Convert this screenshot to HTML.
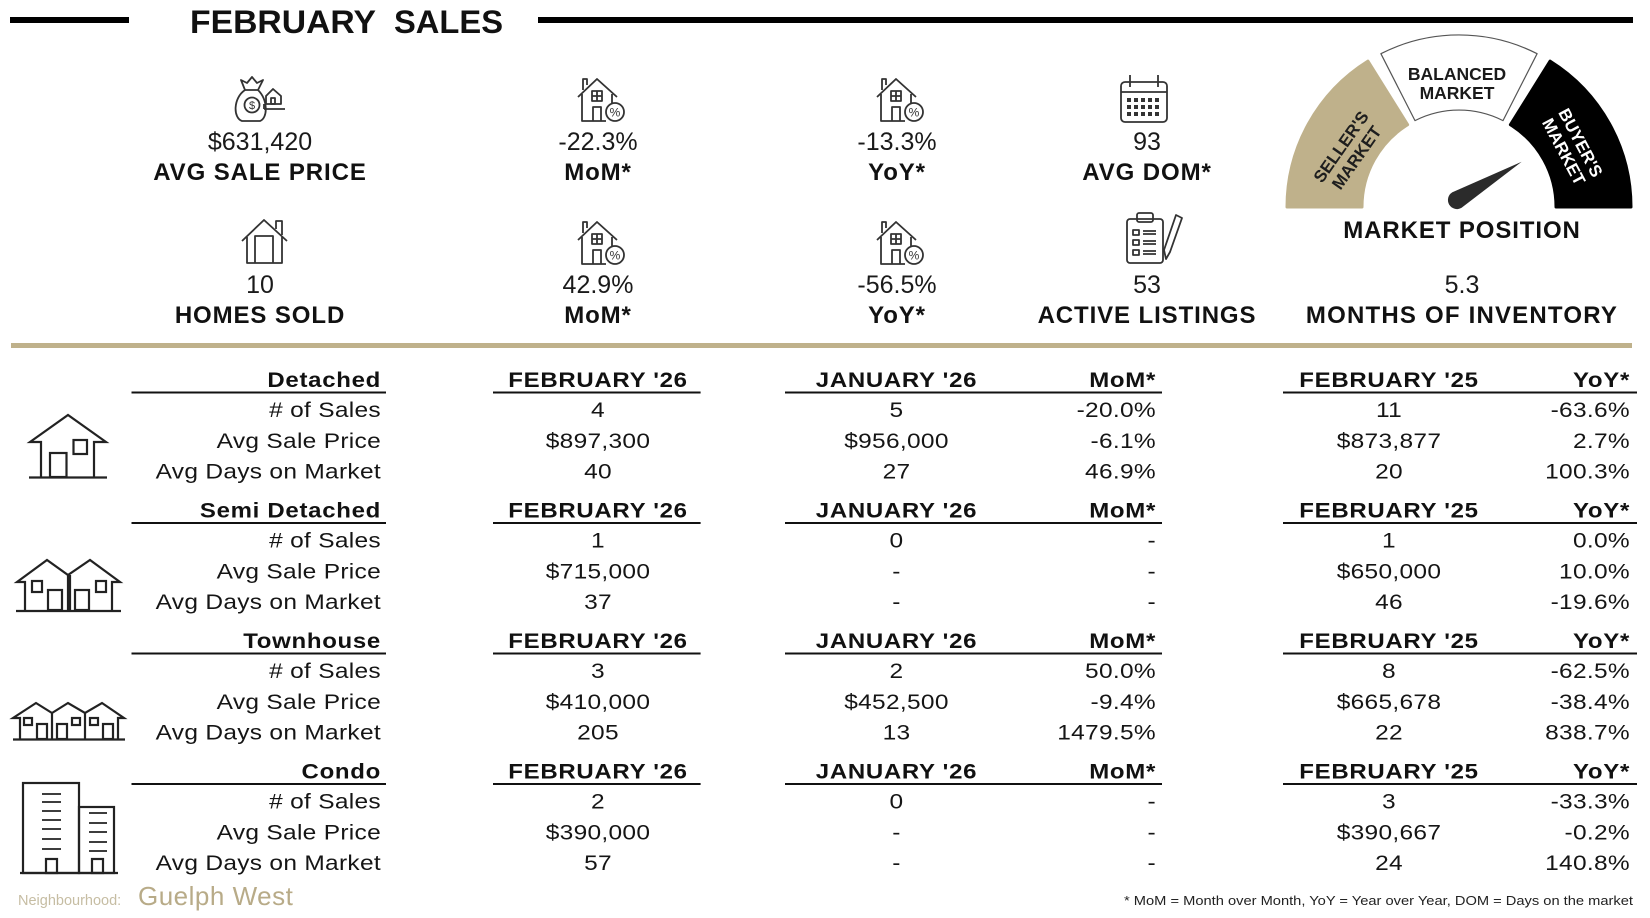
<!DOCTYPE html>
<html><head><meta charset="utf-8"><style>
html,body{margin:0;padding:0;background:#fff;}
svg{display:block;}
</style></head><body>
<svg xmlns="http://www.w3.org/2000/svg" width="1650" height="918" viewBox="0 0 1650 918" font-family="'Liberation Sans', Arial, sans-serif">
<rect width="1650" height="918" fill="#fff"/>
<defs>
<g id="hp" fill="none" stroke="#333" stroke-width="1.8" stroke-linejoin="round">
<path d="M1 19 L20 1 L40 19"/>
<path d="M6 12 V1 H10 V7"/>
<path d="M5 16 V43 H29"/>
<path d="M35 16 V25"/>
<rect x="15" y="13" width="10" height="10"/>
<path d="M20 13 V23 M15 18 H25"/>
<path d="M16 43 V29 H24 V43"/>
<circle cx="38" cy="34" r="9"/>
<text x="38" y="38.5" font-size="12" text-anchor="middle" fill="#333" stroke="none">%</text>
</g>
</defs>

<!-- header -->
<rect x="10" y="17" width="119" height="6" fill="#000"/>
<text x="190" y="33" font-size="32" font-weight="bold" fill="#111" textLength="186" lengthAdjust="spacingAndGlyphs">FEBRUARY</text>
<text x="394" y="33" font-size="32" font-weight="bold" fill="#111" textLength="109" lengthAdjust="spacingAndGlyphs">SALES</text>
<rect x="538" y="17" width="1095" height="6" fill="#000"/>

<!-- icons row 1 -->
<g fill="none" stroke="#333" stroke-width="1.8" stroke-linejoin="round">
<path d="M245 90 C233 98 233 118 242 121 H260 C268 118 268 100 258 90"/>
<path d="M245 90 L241 80 L247 83 L252 77 L257 83 L263 80 L258 90 Z"/>
<circle cx="252" cy="105" r="7.5"/>
<path d="M264 109 H285 M264 104 V109"/>
<path d="M266 104 V96 L273 89 L281 96 V104 Z"/>
<rect x="271" y="98" width="4" height="6"/>
</g>
<text x="252" y="109" font-size="11" text-anchor="middle" fill="#333">$</text>
<use href="#hp" transform="translate(577,78)"/>
<use href="#hp" transform="translate(876,78)"/>
<g fill="none" stroke="#333" stroke-width="1.8">
<rect x="1121" y="82" width="46" height="40" rx="4"/>
<path d="M1121 92 H1167 M1130 75 V87 M1158 75 V87"/>
</g>
<g fill="#333">
<rect x="1127" y="98" width="4" height="4"/><rect x="1134" y="98" width="4" height="4"/><rect x="1141" y="98" width="4" height="4"/><rect x="1148" y="98" width="4" height="4"/><rect x="1155" y="98" width="4" height="4"/>
<rect x="1127" y="105" width="4" height="4"/><rect x="1134" y="105" width="4" height="4"/><rect x="1141" y="105" width="4" height="4"/><rect x="1148" y="105" width="4" height="4"/><rect x="1155" y="105" width="4" height="4"/>
<rect x="1127" y="112" width="4" height="4"/><rect x="1134" y="112" width="4" height="4"/><rect x="1141" y="112" width="4" height="4"/><rect x="1148" y="112" width="4" height="4"/><rect x="1155" y="112" width="4" height="4"/>
</g>

<!-- icons row 2 -->
<g fill="none" stroke="#333" stroke-width="1.8" stroke-linejoin="round">
<path d="M242 241 L264 220 L287 241"/>
<path d="M276 229 V221 H282 V235"/>
<path d="M247 237 V263 H282 V237"/>
<path d="M255 263 V236 H273 V263"/>
</g>
<use href="#hp" transform="translate(577,221)"/>
<use href="#hp" transform="translate(876,221)"/>
<g fill="none" stroke="#333" stroke-width="1.8" stroke-linejoin="round">
<rect x="1127" y="219" width="36" height="44" rx="3"/>
<rect x="1137" y="213" width="16" height="9" rx="2"/>
<rect x="1133" y="230" width="6" height="5"/>
<rect x="1133" y="240" width="6" height="5"/>
<rect x="1133" y="250" width="6" height="5"/>
<path d="M1143 231 H1156 M1143 234 H1156 M1143 241 H1156 M1143 244 H1156 M1143 251 H1156 M1143 254 H1156"/>
<path d="M1176 215 L1182 218 L1170 252 L1166 259 L1164 250 Z"/>
</g>

<!-- stats text -->
<g font-size="25" fill="#1a1a1a" text-anchor="middle">
<text x="260" y="150">$631,420</text>
<text x="598" y="150">-22.3%</text>
<text x="897" y="150">-13.3%</text>
<text x="1147" y="150">93</text>
<text x="260" y="293">10</text>
<text x="598" y="293">42.9%</text>
<text x="897" y="293">-56.5%</text>
<text x="1147" y="293">53</text>
<text x="1462" y="293">5.3</text>
</g>
<g font-size="24" font-weight="bold" fill="#111" text-anchor="middle" letter-spacing="0.9">
<text x="260" y="180">AVG SALE PRICE</text>
<text x="598" y="180">MoM*</text>
<text x="897" y="180">YoY*</text>
<text x="1147" y="180">AVG DOM*</text>
<text x="260" y="323">HOMES SOLD</text>
<text x="598" y="323">MoM*</text>
<text x="897" y="323">YoY*</text>
<text x="1147" y="323">ACTIVE LISTINGS</text>
<text x="1462" y="323" letter-spacing="1.2">MONTHS OF INVENTORY</text>
<text x="1462" y="238">MARKET POSITION</text>
</g>

<!-- gauge -->
<path d="M1287 207 A172 172 0 0 1 1367.9 61.1 L1407.6 124.7 A97 97 0 0 0 1362 207 Z" fill="#bfb18b" stroke="#bfb18b" stroke-width="3" stroke-linejoin="round"/>
<path d="M1380.9 53.7 A172 172 0 0 1 1537.1 53.7 L1503 120.6 A97 97 0 0 0 1415 120.6 Z" fill="#fff" stroke="#555" stroke-width="1.2" stroke-linejoin="round"/>
<path d="M1550.1 61.1 A172 172 0 0 1 1631 207 L1556 207 A97 97 0 0 0 1510.4 124.7 Z" fill="#000" stroke="#000" stroke-width="3" stroke-linejoin="round"/>
<g font-size="17.5" font-weight="bold" text-anchor="middle" fill="#1a1a1a">
<text x="1457" y="80">BALANCED</text>
<text x="1457" y="99">MARKET</text>
</g>
<g transform="translate(1348.5,152) rotate(-55)" font-size="17" font-weight="bold" text-anchor="middle" fill="#1e1e1e">
<text x="0" y="-3.3">SELLER'S</text>
<text x="0" y="15.7">MARKET</text>
</g>
<g transform="translate(1572.5,147) rotate(62)" font-size="17" font-weight="bold" text-anchor="middle" fill="#fff">
<text x="0" y="-3.3">BUYER'S</text>
<text x="0" y="15.7">MARKET</text>
</g>
<path d="M1521.7 161.7 L1461.6 207.8 A9 9 0 1 1 1452.4 192.2 Z" fill="#2b2b2b"/>

<!-- separator -->
<rect x="11" y="343" width="1621" height="5" fill="#bfb18b"/>

<!-- table icons -->
<g fill="none" stroke="#222" stroke-width="2.2" stroke-linejoin="miter">
<path d="M41 477 V442 H30 L68 415 L106 442 H94 V477"/>
<path d="M29 477.5 H107"/>
<rect x="50" y="453" width="16.5" height="24"/>
<rect x="73.5" y="440" width="13.5" height="14"/>

<path d="M25 610 V582 H17 L47 560 L68 575 L90 560 L120 582 H112 V610"/>
<path d="M68 575 V610 M70 575 V610"/>
<path d="M16 611 H121"/>
<rect x="32" y="581" width="10" height="11"/>
<rect x="96" y="581" width="10" height="11"/>
<rect x="48" y="590" width="14" height="20"/>
<rect x="75" y="590" width="14" height="20"/>

<path d="M20 739 V718 H13 L36 703 L52 713 L68 703 L85 713 L102 703 L124 718 H118 V739"/>
<path d="M52 713 V739 M85 713 V739"/>
<path d="M13 739.5 H125"/>
<rect x="24" y="718" width="8" height="7"/>
<rect x="37" y="724" width="10" height="15"/>
<rect x="57" y="724" width="10" height="15"/>
<rect x="72" y="718" width="8" height="7"/>
<rect x="90" y="718" width="8" height="7"/>
<rect x="103" y="724" width="10" height="15"/>

<rect x="23" y="783" width="56" height="90"/>
<rect x="79" y="807" width="35" height="66"/>
<path d="M20 873 H118"/>
<path d="M42 794 H61 M42 802 H61 M42 811 H61 M42 820 H61 M42 829 H61 M42 839 H61 M42 849 H61" stroke-width="1.8"/>
<path d="M89 813 H107 M89 823 H107 M89 832 H107 M89 842 H107 M89 851 H107" stroke-width="1.8"/>
<rect x="46" y="859" width="11" height="14"/>
<rect x="92" y="859" width="11" height="14"/>
</g>

<!-- table underlines -->
<g fill="#111">
<rect x="131.5" y="391.5" width="254.5" height="2"/><rect x="493" y="391.5" width="207.6" height="2"/><rect x="785" y="391.5" width="377" height="2"/><rect x="1283" y="391.5" width="354" height="2"/>
<rect x="131.5" y="522" width="254.5" height="2"/><rect x="493" y="522" width="207.6" height="2"/><rect x="785" y="522" width="377" height="2"/><rect x="1283" y="522" width="354" height="2"/>
<rect x="131.5" y="652.5" width="254.5" height="2"/><rect x="493" y="652.5" width="207.6" height="2"/><rect x="785" y="652.5" width="377" height="2"/><rect x="1283" y="652.5" width="354" height="2"/>
<rect x="131.5" y="783" width="254.5" height="2"/><rect x="493" y="783" width="207.6" height="2"/><rect x="785" y="783" width="377" height="2"/><rect x="1283" y="783" width="354" height="2"/>
</g>

<!-- table headers -->
<g font-size="24" font-weight="bold" fill="#111" letter-spacing="0.7">
<g transform="translate(0,387) scale(1,0.88)">
<text x="381" y="0" text-anchor="end">Detached</text><text x="598" y="0" text-anchor="middle">FEBRUARY '26</text><text x="896.5" y="0" text-anchor="middle">JANUARY '26</text><text x="1156" y="0" text-anchor="end">MoM*</text><text x="1389" y="0" text-anchor="middle">FEBRUARY '25</text><text x="1630" y="0" text-anchor="end">YoY*</text>
</g>
<g transform="translate(0,517.5) scale(1,0.88)">
<text x="381" y="0" text-anchor="end">Semi Detached</text><text x="598" y="0" text-anchor="middle">FEBRUARY '26</text><text x="896.5" y="0" text-anchor="middle">JANUARY '26</text><text x="1156" y="0" text-anchor="end">MoM*</text><text x="1389" y="0" text-anchor="middle">FEBRUARY '25</text><text x="1630" y="0" text-anchor="end">YoY*</text>
</g>
<g transform="translate(0,648) scale(1,0.88)">
<text x="381" y="0" text-anchor="end">Townhouse</text><text x="598" y="0" text-anchor="middle">FEBRUARY '26</text><text x="896.5" y="0" text-anchor="middle">JANUARY '26</text><text x="1156" y="0" text-anchor="end">MoM*</text><text x="1389" y="0" text-anchor="middle">FEBRUARY '25</text><text x="1630" y="0" text-anchor="end">YoY*</text>
</g>
<g transform="translate(0,778.5) scale(1,0.88)">
<text x="381" y="0" text-anchor="end">Condo</text><text x="598" y="0" text-anchor="middle">FEBRUARY '26</text><text x="896.5" y="0" text-anchor="middle">JANUARY '26</text><text x="1156" y="0" text-anchor="end">MoM*</text><text x="1389" y="0" text-anchor="middle">FEBRUARY '25</text><text x="1630" y="0" text-anchor="end">YoY*</text>
</g>
</g>

<!-- table rows -->
<g font-size="24.5" fill="#151515" letter-spacing="0.3">
<g transform="translate(0,417) scale(1,0.88)"><text x="381" y="0" text-anchor="end"># of Sales</text><text x="598" y="0" text-anchor="middle">4</text><text x="896.5" y="0" text-anchor="middle">5</text><text x="1156" y="0" text-anchor="end">-20.0%</text><text x="1389" y="0" text-anchor="middle">11</text><text x="1630" y="0" text-anchor="end">-63.6%</text></g>
<g transform="translate(0,447.8) scale(1,0.88)"><text x="381" y="0" text-anchor="end">Avg Sale Price</text><text x="598" y="0" text-anchor="middle">$897,300</text><text x="896.5" y="0" text-anchor="middle">$956,000</text><text x="1156" y="0" text-anchor="end">-6.1%</text><text x="1389" y="0" text-anchor="middle">$873,877</text><text x="1630" y="0" text-anchor="end">2.7%</text></g>
<g transform="translate(0,478.6) scale(1,0.88)"><text x="381" y="0" text-anchor="end">Avg Days on Market</text><text x="598" y="0" text-anchor="middle">40</text><text x="896.5" y="0" text-anchor="middle">27</text><text x="1156" y="0" text-anchor="end">46.9%</text><text x="1389" y="0" text-anchor="middle">20</text><text x="1630" y="0" text-anchor="end">100.3%</text></g>

<g transform="translate(0,547.5) scale(1,0.88)"><text x="381" y="0" text-anchor="end"># of Sales</text><text x="598" y="0" text-anchor="middle">1</text><text x="896.5" y="0" text-anchor="middle">0</text><text x="1156" y="0" text-anchor="end">-</text><text x="1389" y="0" text-anchor="middle">1</text><text x="1630" y="0" text-anchor="end">0.0%</text></g>
<g transform="translate(0,578.3) scale(1,0.88)"><text x="381" y="0" text-anchor="end">Avg Sale Price</text><text x="598" y="0" text-anchor="middle">$715,000</text><text x="896.5" y="0" text-anchor="middle">-</text><text x="1156" y="0" text-anchor="end">-</text><text x="1389" y="0" text-anchor="middle">$650,000</text><text x="1630" y="0" text-anchor="end">10.0%</text></g>
<g transform="translate(0,609.1) scale(1,0.88)"><text x="381" y="0" text-anchor="end">Avg Days on Market</text><text x="598" y="0" text-anchor="middle">37</text><text x="896.5" y="0" text-anchor="middle">-</text><text x="1156" y="0" text-anchor="end">-</text><text x="1389" y="0" text-anchor="middle">46</text><text x="1630" y="0" text-anchor="end">-19.6%</text></g>

<g transform="translate(0,678) scale(1,0.88)"><text x="381" y="0" text-anchor="end"># of Sales</text><text x="598" y="0" text-anchor="middle">3</text><text x="896.5" y="0" text-anchor="middle">2</text><text x="1156" y="0" text-anchor="end">50.0%</text><text x="1389" y="0" text-anchor="middle">8</text><text x="1630" y="0" text-anchor="end">-62.5%</text></g>
<g transform="translate(0,708.8) scale(1,0.88)"><text x="381" y="0" text-anchor="end">Avg Sale Price</text><text x="598" y="0" text-anchor="middle">$410,000</text><text x="896.5" y="0" text-anchor="middle">$452,500</text><text x="1156" y="0" text-anchor="end">-9.4%</text><text x="1389" y="0" text-anchor="middle">$665,678</text><text x="1630" y="0" text-anchor="end">-38.4%</text></g>
<g transform="translate(0,739.6) scale(1,0.88)"><text x="381" y="0" text-anchor="end">Avg Days on Market</text><text x="598" y="0" text-anchor="middle">205</text><text x="896.5" y="0" text-anchor="middle">13</text><text x="1156" y="0" text-anchor="end">1479.5%</text><text x="1389" y="0" text-anchor="middle">22</text><text x="1630" y="0" text-anchor="end">838.7%</text></g>

<g transform="translate(0,808.5) scale(1,0.88)"><text x="381" y="0" text-anchor="end"># of Sales</text><text x="598" y="0" text-anchor="middle">2</text><text x="896.5" y="0" text-anchor="middle">0</text><text x="1156" y="0" text-anchor="end">-</text><text x="1389" y="0" text-anchor="middle">3</text><text x="1630" y="0" text-anchor="end">-33.3%</text></g>
<g transform="translate(0,839.3) scale(1,0.88)"><text x="381" y="0" text-anchor="end">Avg Sale Price</text><text x="598" y="0" text-anchor="middle">$390,000</text><text x="896.5" y="0" text-anchor="middle">-</text><text x="1156" y="0" text-anchor="end">-</text><text x="1389" y="0" text-anchor="middle">$390,667</text><text x="1630" y="0" text-anchor="end">-0.2%</text></g>
<g transform="translate(0,870.1) scale(1,0.88)"><text x="381" y="0" text-anchor="end">Avg Days on Market</text><text x="598" y="0" text-anchor="middle">57</text><text x="896.5" y="0" text-anchor="middle">-</text><text x="1156" y="0" text-anchor="end">-</text><text x="1389" y="0" text-anchor="middle">24</text><text x="1630" y="0" text-anchor="end">140.8%</text></g>
</g>

<!-- footer -->
<text x="18" y="905" font-size="14.5" fill="#c6bda3">Neighbourhood:</text>
<text x="138" y="905" font-size="26" fill="#b8ab88" letter-spacing="0.5">Guelph West</text>
<text x="1124" y="905" font-size="13" fill="#222" textLength="509" lengthAdjust="spacingAndGlyphs">* MoM = Month over Month, YoY = Year over Year, DOM = Days on the market</text>
</svg>
</body></html>
